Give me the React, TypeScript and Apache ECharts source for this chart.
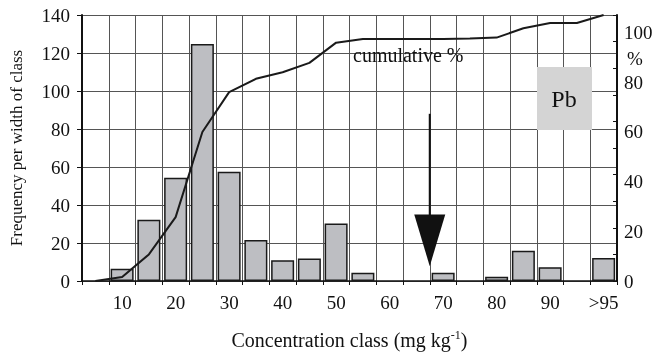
import React, { useEffect, useRef } from 'react';
import * as echarts from 'echarts';

const categories = ['5', '10', '15', '20', '25', '30', '35', '40', '45', '50', '55', '60', '65', '70', '75', '80', '85', '90', '95', '>95'];
const frequency = [null, 6.4, 32.3, 54.4, 124.8, 57.5, 21.6, 10.9, 11.9, 30.2, 4.3, null, null, 4.3, null, 2.2, 15.9, 7.3, null, 12.1];
const cumulative = [0, 1.5, 10, 24, 56, 71, 76, 78.5, 82, 89.6, 91, 91, 91, 91, 91.2, 91.5, 95, 97, 97, 100];
const leftTicks = { min: 0, max: 140, interval: 20 };
const rightLabels = [0, 20, 40, 60, 80, 100];

const FONT = '"Liberation Serif", "DejaVu Serif", serif';

export default function App() {
  const ref = useRef<HTMLDivElement>(null);
  useEffect(() => {
    if (!ref.current) return;
    const chart = echarts.init(ref.current, undefined, { renderer: 'svg' });
    chart.setOption({
      animation: false,
      grid: { left: 82, right: 41, top: 15, bottom: 70 },
      xAxis: {
        type: 'category',
        data: categories,
        boundaryGap: true,
        name: '{a|Concentration class (mg kg}{s|-1}{a|)}',
        nameLocation: 'middle',
        nameGap: 48,
        nameTextStyle: {
          rich: {
            a: { fontFamily: FONT, fontSize: 20, color: '#111' },
            s: { fontFamily: FONT, fontSize: 12, color: '#111', padding: [0, 0, 10, 0] },
          },
        },
        axisLine: { lineStyle: { color: '#111', width: 1.5 } },
        axisTick: { show: true, interval: 0, length: 4, lineStyle: { color: '#111' } },
        axisLabel: {
          interval: (i: number) => i % 2 === 1,
          fontFamily: FONT,
          fontSize: 19,
          color: '#111',
          margin: 12,
        },
        splitLine: { show: true, interval: 0, lineStyle: { color: '#555', width: 1 } },
      },
      yAxis: [
        {
          type: 'value',
          position: 'left',
          min: leftTicks.min,
          max: leftTicks.max,
          interval: leftTicks.interval,
          name: 'Frequency per width of class',
          nameLocation: 'middle',
          nameGap: 57,
          nameTextStyle: { fontFamily: FONT, fontSize: 17, color: '#111' },
          axisLine: { show: true, lineStyle: { color: '#111', width: 2 } },
          axisTick: { show: true, length: 5, lineStyle: { color: '#111' } },
          axisLabel: { fontFamily: FONT, fontSize: 19, color: '#111', margin: 12 },
          splitLine: { show: true, lineStyle: { color: '#555', width: 1 } },
        },
        {
          type: 'value',
          position: 'right',
          min: 0,
          max: 100,
          interval: 10,
          axisLine: { show: true, lineStyle: { color: '#111', width: 2 } },
          axisTick: { show: true, inside: true, length: 4, lineStyle: { color: '#111' } },
          axisLabel: { show: false },
          splitLine: { show: false },
        },
        {
          type: 'value',
          position: 'right',
          min: 0,
          max: 107,
          interval: 20,
          axisLine: { show: false },
          axisTick: { show: false },
          splitLine: { show: false },
          axisLabel: {
            fontFamily: FONT,
            fontSize: 19,
            color: '#111',
            margin: 7,
            formatter: (v: number) => (rightLabels.indexOf(v) >= 0 ? String(v) : ''),
          },
        },
      ],
      series: [
        {
          type: 'bar',
          data: frequency,
          yAxisIndex: 0,
          barWidth: 23,
          itemStyle: { color: '#bdbec2', borderColor: '#1a1a1a', borderWidth: 1.5 },
          z: 2,
        },
        {
          type: 'line',
          data: cumulative,
          yAxisIndex: 1,
          showSymbol: false,
          symbol: 'none',
          lineStyle: { color: '#1a1a1a', width: 2 },
          z: 3,
        },
      ],
    });

    const x12 = chart.convertToPixel({ xAxisIndex: 0 }, 12) as number;
    const x13 = chart.convertToPixel({ xAxisIndex: 0 }, 13) as number;
    const ax = (x12 + x13) / 2;
    const yTop = chart.convertToPixel({ yAxisIndex: 0 }, 88) as number;
    const yHead = chart.convertToPixel({ yAxisIndex: 0 }, 35) as number;
    const yTip = chart.convertToPixel({ yAxisIndex: 0 }, 7.8) as number;

    chart.setOption({
      graphic: [
        {
          type: 'rect',
          shape: { x: 537, y: 67, width: 55, height: 63 },
          style: { fill: '#d4d4d4' },
          z: 10,
        },
        {
          type: 'text',
          x: 564,
          y: 99,
          style: { text: 'Pb', font: `24px ${FONT}`, fill: '#111', align: 'center', verticalAlign: 'middle' },
          z: 11,
        },
        {
          type: 'text',
          x: 353,
          y: 55,
          style: { text: 'cumulative %', font: `20px ${FONT}`, fill: '#111', align: 'left', verticalAlign: 'middle' },
          z: 11,
        },
        {
          type: 'text',
          x: 627,
          y: 58,
          style: { text: '%', font: `19px ${FONT}`, fill: '#111', align: 'left', verticalAlign: 'middle' },
          z: 11,
        },
        {
          type: 'line',
          shape: { x1: ax, y1: yTop, x2: ax, y2: yHead + 2 },
          style: { stroke: '#111', lineWidth: 2 },
          z: 11,
        },
        {
          type: 'polygon',
          shape: { points: [[ax - 15.5, yHead], [ax + 15.5, yHead], [ax, yTip]] },
          style: { fill: '#111' },
          z: 11,
        },
      ],
    });

    return () => chart.dispose();
  }, []);
  return <div ref={ref} style={{ position: 'fixed', left: 0, top: 0, width: 658, height: 355 }} />;
}
